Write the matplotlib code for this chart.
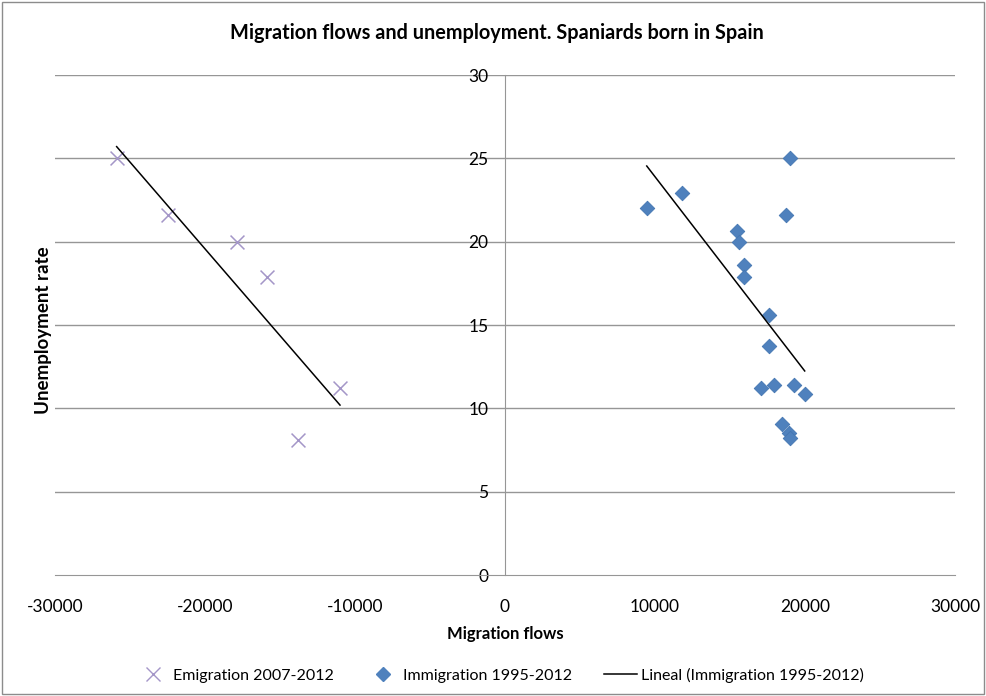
import numpy as np
import matplotlib
matplotlib.use('Agg')
import matplotlib.pyplot as plt
from matplotlib.lines import Line2D

plt.rcParams['font.family'] = ['Lato', 'DejaVu Sans']
plt.rcParams['axes.unicode_minus'] = False

# === DATA ===
emig_flows = [-25890, -22490, -17840, -15890, -11000, -13820]
emig_unemp = [25.0, 21.6, 20.0, 17.9, 11.2, 8.1]

immig_flows = [19020, 11820, 9450, 18710, 15490, 15620, 15930, 15930, 17600,
               17620, 17090, 17910, 19240, 19980, 18470, 18960, 19020]
immig_unemp = [25.0, 22.9, 22.0, 21.6, 20.65, 20.0, 18.6, 17.9, 15.6,
               13.75, 11.2, 11.4, 11.4, 10.86, 9.06, 8.5, 8.2]

x_ticks = [-30000, -20000, -10000, 0, 10000, 20000, 30000]
y_ticks = [0, 5, 10, 15, 20, 25, 30]

emig_color = '#a496c8'
immig_color = '#4f81bd'
grid_color = '#969696'

fig = plt.figure(figsize=(9.87, 6.96), dpi=100)
ax = fig.add_axes([55 / 987, 1 - 575 / 696, 900 / 987, 500 / 696])

# horizontal gridlines
for yv in y_ticks[1:]:
    ax.axhline(yv, color=grid_color, lw=1, zorder=0)

ax.scatter(emig_flows, emig_unemp, marker='x', s=100, color=emig_color,
           linewidths=1.1, zorder=3)
ax.scatter(immig_flows, immig_unemp, marker='D', s=55, color=immig_color,
           edgecolors='#4476b2', linewidths=0.6, zorder=3)

# linear trendlines
for xs, ys in [(emig_flows, emig_unemp), (immig_flows, immig_unemp)]:
    k, b = np.polyfit(xs, ys, 1)
    xx = np.array([min(xs), max(xs)])
    ax.plot(xx, k * xx + b, color='black', lw=1.1, zorder=4)

ax.set_xlim(-30000, 30000)
ax.set_ylim(0, 30)
ax.set_xticks(x_ticks)
ax.set_yticks(y_ticks)
ax.spines['left'].set_position(('data', 0))
ax.spines['left'].set_color(grid_color)
ax.spines['bottom'].set_color(grid_color)
ax.spines['top'].set_visible(False)
ax.spines['right'].set_visible(False)
ax.tick_params(axis='x', length=0, pad=17, labelsize=12.5)
ax.tick_params(axis='y', length=0, pad=12, labelsize=12.5)

ax.set_xlabel('Migration flows', fontsize=12, fontweight='bold', labelpad=8)
fig.text(44 / 987, 1 - 330 / 696, 'Unemployment rate', rotation=90,
         fontsize=13.5, fontweight='bold', ha='center', va='center')
fig.text(497 / 987, 1 - 33 / 696,
         'Migration flows and unemployment. Spaniards born in Spain',
         fontsize=14.3, fontweight='bold', ha='center', va='center')

handles = [
    Line2D([], [], ls='none', marker='x', color=emig_color, markersize=10),
    Line2D([], [], ls='none', marker='D', color=immig_color, markersize=7),
    Line2D([], [], color='black', lw=1.1),
]
labels = ['Emigration 2007-2012', 'Immigration 1995-2012',
          'Lineal (Immigration 1995-2012)']
fig.legend(handles, labels, loc='center', bbox_to_anchor=(500 / 987, 1 - 675 / 696),
           ncol=3, frameon=False, fontsize=11.5, handlelength=2.1,
           columnspacing=2.0, handletextpad=0.2)

# chart border
fig.patches.append(plt.Rectangle((0.002, 0.003), 0.995, 0.994, transform=fig.transFigure,
                                 fill=False, edgecolor='#8c8c8c', lw=1))

fig.savefig('out.png', dpi=100)
